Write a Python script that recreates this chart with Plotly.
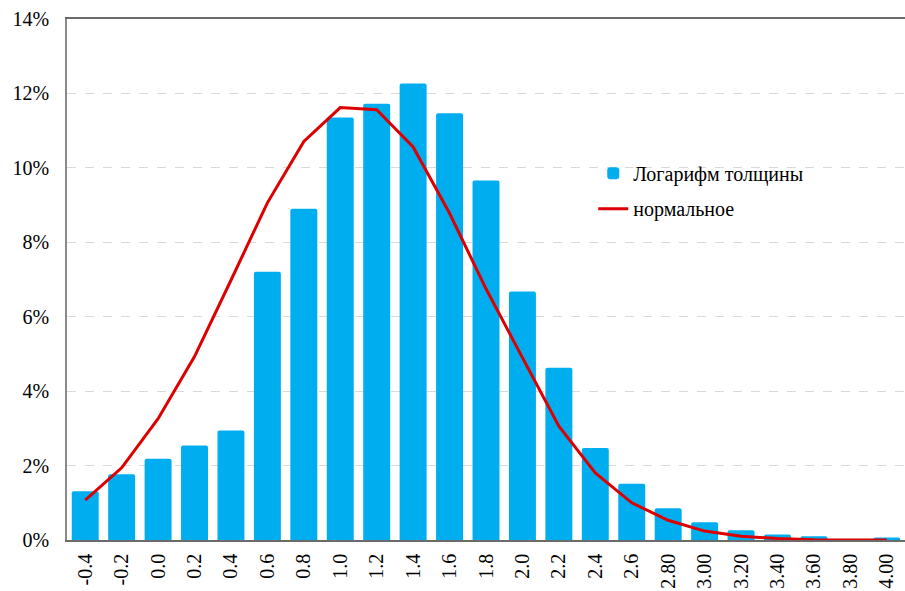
import plotly.graph_objects as go

# Histogram bins of the log-thickness and their relative frequencies
categories = ["-0.4", "-0.2", "0.0", "0.2", "0.4", "0.6", "0.8", "1.0", "1.2", "1.4",
              "1.6", "1.8", "2.0", "2.2", "2.4", "2.6", "2.80", "3.00", "3.20", "3.40",
              "3.60", "3.80", "4.00"]
log_thickness = [0.0131, 0.0177, 0.0218, 0.0254, 0.0294, 0.0721, 0.0890, 0.1135, 0.1172, 0.1227,
                 0.1147, 0.0966, 0.0668, 0.0463, 0.0247, 0.0151, 0.0085, 0.0048, 0.0026, 0.0015,
                 0.0010, 0.0000, 0.0007]
normal_fit = [0.0107, 0.0194, 0.0326, 0.0493, 0.0698, 0.0906, 0.1071, 0.1162, 0.1156, 0.1056,
              0.0878, 0.0675, 0.0490, 0.0306, 0.0180, 0.0100, 0.0053, 0.0024, 0.0010, 0.0004,
              0.0001, 0.0000, 0.0000]
y_ticks = [0, 0.02, 0.04, 0.06, 0.08, 0.10, 0.12, 0.14]

FONT = "'Liberation Serif', 'DejaVu Serif', serif"

fig = go.Figure()
fig.add_trace(go.Bar(
    x=categories, y=log_thickness, name="Логарифм толщины",
    marker=dict(color="#00AEEF", line=dict(width=0), cornerradius=2),
    legend="legend",
))
fig.add_trace(go.Scatter(
    x=categories, y=normal_fit, name="нормальное", mode="lines",
    line=dict(color="#DD0000", width=3),
    legend="legend2",
))

legend_style = dict(
    font=dict(family=FONT, size=20, color="#000000"),
    bgcolor="rgba(0,0,0,0)", borderwidth=0,
    xanchor="left", yanchor="middle", itemwidth=30,
)

fig.update_layout(
    width=905, height=591,
    margin=dict(l=67, r=0, t=19, b=51),
    paper_bgcolor="white", plot_bgcolor="white",
    font=dict(family=FONT, size=20, color="#000000"),
    bargap=0.26,
    showlegend=True,
    legend=dict(x=0.628, y=0.704, **legend_style),
    legend2=dict(x=0.628, y=0.636, **legend_style),
    xaxis=dict(
        type="category", tickangle=-90,
        tickfont=dict(family=FONT, size=20, color="#000000"),
        showline=True, linecolor="#6b6b6b", linewidth=1.5, mirror=True,
        showgrid=False, ticks="", ticklabelstandoff=4,
    ),
    yaxis=dict(
        range=[0, 0.14], tickvals=y_ticks, tickformat=".0%",
        tickfont=dict(family=FONT, size=20, color="#000000"),
        showline=True, linecolor="#8a8a8a", linewidth=1.5,
        showgrid=True, gridcolor="#D9D9D9", griddash="dash", gridwidth=1,
        zeroline=False, ticks="", ticklabelstandoff=12,
    ),
)

fig.write_html("out.html")
